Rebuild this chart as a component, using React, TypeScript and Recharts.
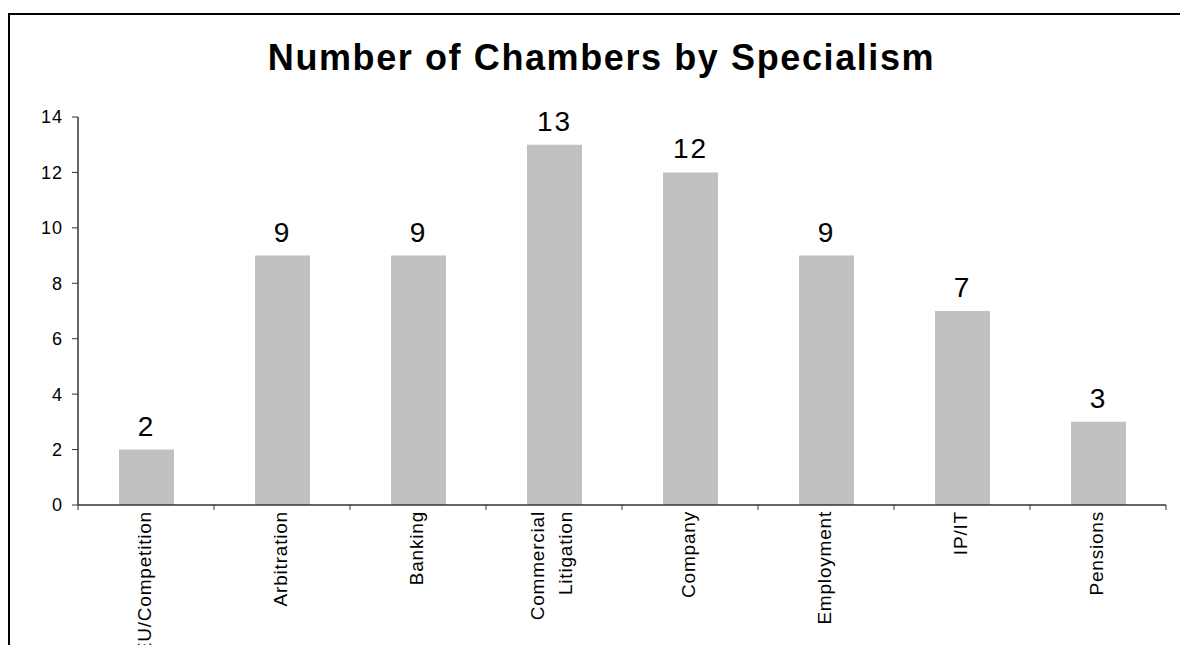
import React from "react";
import { BarChart, Bar, XAxis, YAxis, LabelList } from "recharts";

const categories = [
  "EU/Competition",
  "Arbitration",
  "Banking",
  "Commercial Litigation",
  "Company",
  "Employment",
  "IP/IT",
  "Pensions",
];
const chamberCounts = [2, 9, 9, 13, 12, 9, 7, 3];
const yTicks = [0, 2, 4, 6, 8, 10, 12, 14];
const titleText = "Number of Chambers by Specialism";

const data = categories.map((name, i) => ({ name, count: chamberCounts[i] }));

const FONT = '"Liberation Sans", Arial, sans-serif';
const AXIS = "#333";

const CatTick = (props: any) => {
  const { x, y, payload, index } = props;
  const label: string = payload.value;
  const half: number = payload.offset || 0;
  const lines = label.length > 15 && label.includes(" ") ? label.split(" ") : [label];
  const y0 = y + 6;
  const offsets = lines.length === 1 ? [5] : [-10, 18];
  const isLast = index === categories.length - 1;
  return (
    <g>
      <line x1={x - half} x2={x - half} y1={y} y2={y + 5} stroke={AXIS} strokeWidth={1} />
      {isLast && <line x1={x + half} x2={x + half} y1={y} y2={y + 5} stroke={AXIS} strokeWidth={1} />}
      {lines.map((ln, i) => (
        <text
          key={i}
          x={x + offsets[i]}
          y={y0}
          transform={`rotate(-90, ${x + offsets[i]}, ${y0})`}
          textAnchor="end"
          fontSize={19}
          letterSpacing={0.8}
          fontFamily={FONT}
          fill="#000"
        >
          {ln}
        </text>
      ))}
    </g>
  );
};

const ValueTick = (props: any) => {
  const { x, y, payload } = props;
  return (
    <text
      x={x}
      y={y}
      dy="0.355em"
      textAnchor="end"
      fontSize={18}
      letterSpacing={1}
      fontFamily={FONT}
      fill="#000"
    >
      {payload.value}
    </text>
  );
};

export default function App() {
  return (
    <div
      style={{
        position: "fixed",
        left: 0,
        top: 0,
        width: 1180,
        height: 645,
        overflow: "hidden",
        fontFamily: FONT,
        background: "#fff",
      }}
    >
      <div
        style={{
          position: "absolute",
          left: 601.5,
          top: 39.5,
          transform: "translateX(-50%)",
          whiteSpace: "nowrap",
          fontSize: 36,
          lineHeight: "36px",
          fontWeight: "bold",
          letterSpacing: 1.6,
          color: "#000",
        }}
      >
        {titleText}
      </div>
      <div
        style={{
          position: "absolute",
          left: 8,
          top: 13,
          borderTop: "2px solid #000",
          borderLeft: "2px solid #000",
          width: 1200,
          height: 700,
        }}
      >
        <BarChart
          width={1170}
          height={640}
          data={data}
          margin={{ top: 102, right: 14, bottom: 0, left: 0 }}
        >
          <XAxis
            dataKey="name"
            type="category"
            height={150}
            interval={0}
            axisLine={{ stroke: AXIS, strokeWidth: 1.5 }}
            tickLine={false}
            tickSize={0}
            tickMargin={0}
            tick={<CatTick />}
          />
          <YAxis
            type="number"
            domain={[0, 14]}
            ticks={yTicks}
            width={68}
            tickSize={6}
            tickMargin={9}
            axisLine={{ stroke: AXIS, strokeWidth: 1.5 }}
            tickLine={{ stroke: AXIS }}
            tick={<ValueTick />}
          />
          <Bar dataKey="count" fill="#c0c0c0" barSize={55} isAnimationActive={false}>
            <LabelList
              dataKey="count"
              position="top"
              offset={14}
              fontSize={28}
              letterSpacing={2}
              fill="#000"
              fontFamily={FONT}
            />
          </Bar>
        </BarChart>
      </div>
    </div>
  );
}
